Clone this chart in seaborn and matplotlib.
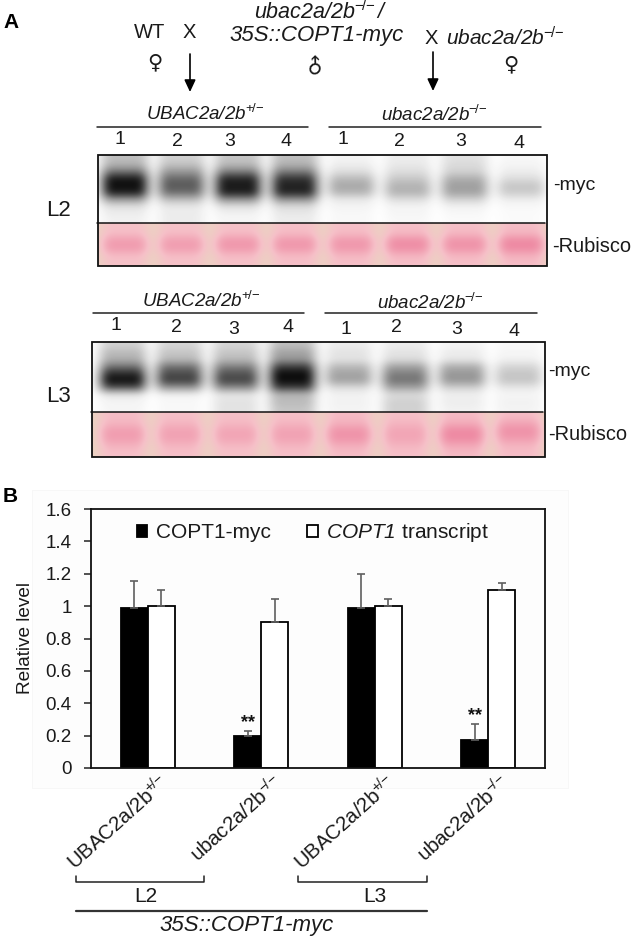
import matplotlib
matplotlib.use("Agg")
import matplotlib.pyplot as plt
from matplotlib.colors import LinearSegmentedColormap
from matplotlib.patches import Rectangle
from matplotlib.transforms import ScaledTranslation
import numpy as np
import pandas as pd
import seaborn as sns

# Bar chart values
groups = ["UBAC2a/2b+/- L2", "ubac2a/2b-/- L2", "UBAC2a/2b+/- L3", "ubac2a/2b-/- L3"]
protein = [0.99, 0.20, 0.99, 0.17]
transcript = [1.00, 0.90, 1.00, 1.10]
protein_err = [0.165, 0.03, 0.21, 0.10]
transcript_err = [0.10, 0.145, 0.045, 0.045]
y_ticks = [0, 0.2, 0.4, 0.6, 0.8, 1, 1.2, 1.4, 1.6]
y_tick_labels = ["0", "0.2", "0.4", "0.6", "0.8", "1", "1.2", "1.4", "1.6"]

# Blot darkness, one list per lane, top to bottom
myc_l2 = [
    [.28, .35, .62, .95, 1.0, .92, .45, .14, .08, .06],
    [.20, .28, .46, .64, .70, .62, .30, .10, .08, .08],
    [.25, .32, .58, .90, .95, .92, .48, .14, .06, .04],
    [.28, .35, .58, .85, .92, .90, .48, .16, .10, .08],
    [.05, .08, .15, .30, .38, .32, .10, .05, .03, .03],
    [.08, .10, .15, .24, .33, .33, .15, .05, .04, .03],
    [.13, .16, .20, .35, .42, .40, .20, .06, .03, .02],
    [.03, .05, .08, .15, .25, .22, .08, .03, .02, .02],
]
myc_l3 = [
    [.20, .30, .35, .60, .88, 1.0, .72, .10, .05, .04],
    [.18, .25, .30, .60, .75, .80, .45, .05, .03, .03],
    [.18, .25, .30, .55, .72, .78, .50, .10, .12, .12],
    [.28, .40, .45, .80, 1.0, 1.0, .80, .30, .30, .25],
    [.08, .12, .12, .30, .40, .40, .15, .05, .06, .05],
    [.08, .12, .15, .40, .55, .60, .40, .15, .20, .20],
    [.05, .08, .10, .35, .45, .45, .20, .06, .08, .06],
    [.03, .04, .06, .18, .25, .25, .10, .04, .06, .05],
]
rub_l2 = [
    [.42, .50, .80, .82, .50, .42],
    [.42, .50, .78, .80, .50, .42],
    [.42, .52, .85, .85, .52, .42],
    [.45, .52, .85, .85, .52, .45],
    [.45, .52, .85, .85, .55, .45],
    [.45, .55, .95, .95, .58, .45],
    [.45, .55, .90, .90, .55, .45],
    [.48, .58, 1.0, 1.0, .62, .48],
]
rub_l3 = [
    [.48, .55, .80, .80, .58, .45],
    [.45, .55, .75, .75, .55, .45],
    [.45, .52, .72, .72, .52, .42],
    [.45, .55, .75, .75, .55, .45],
    [.50, .60, .90, .90, .62, .48],
    [.45, .55, .72, .72, .55, .45],
    [.50, .65, 1.0, 1.0, .68, .50],
    [.48, .72, .95, .82, .55, .48],
]
lane_numbers = ["1", "2", "3", "4", "1", "2", "3", "4"]

W, H = 633, 939
sns.set_theme(style="ticks")
plt.rcParams["font.family"] = ["Liberation Sans", "DejaVu Sans"]
plt.rcParams["mathtext.fontset"] = "custom"
plt.rcParams["mathtext.rm"] = "Liberation Sans"
plt.rcParams["mathtext.it"] = "Liberation Sans:italic"
plt.rcParams["mathtext.bf"] = "Liberation Sans:bold"
# \mathit keeps digits upright, the cal slot gives a fully italic run
plt.rcParams["mathtext.cal"] = "Liberation Sans:italic"

TXT = "#1a1a1a"
UP = r"$\mathrm{UBAC2a/2b}^{+\!/\!-}$"
DOWN = r"$\mathrm{ubac2a/2b}^{-\!/\!-}$"
UP_I = r"$\mathcal{UBAC2a/2b}^{+\!/\!-}$"
DOWN_I = r"$\mathcal{ubac2a/2b}^{-\!/\!-}$"

fig = plt.figure(figsize=(W / 100, H / 100), dpi=100, facecolor="white")

# Overlay in pixel coordinates for panel A and the annotations
px = fig.add_axes([0, 0, 1, 1])
px.set_axis_off()
px.add_patch(Rectangle((32, 490), 536, 298, fc="#fdfdfd", ec="#f6f6f6", lw=0.6))


def spread(lanes, gap):
    # each lane period = one gap column + four lane columns
    cols = []
    for lane in lanes:
        cols.append([gap] * len(lane))
        cols.extend([lane] * 4)
    cols.append([gap] * len(lanes[0]))
    cols.append([gap] * len(lanes[0]))
    return np.array(cols).T


pink = LinearSegmentedColormap.from_list(
    "ponceau", [(0, "#e6dcc0"), (0.45, "#f6c0c8"), (1, "#ee8aa3")])
grey = LinearSegmentedColormap.from_list("blot", ["#ffffff", "#8c8c8c", "#0c0c0c"])


def blot(x0, x1, y0, ymid, y1, first, step, myc, rub):
    w = step / 5
    left = first - 3 * w
    right = left + 42 * w
    box = Rectangle((x0, y0), x1 - x0, y1 - y0, transform=px.transData)
    for data, cmap, top, bot, gap in [(myc, grey, y0, ymid, 0.0), (rub, pink, ymid, y1, 0.12)]:
        im = px.imshow(spread(data, gap), cmap=cmap, vmin=0, vmax=1, aspect="auto",
                       interpolation="bicubic", extent=(left, right, bot, top))
        im.set_clip_path(box)
    px.add_patch(Rectangle((x0, y0), x1 - x0, y1 - y0, fc="none", ec="#111111", lw=1.3))
    px.plot([x0 - 1, x1 - 2], [ymid, ymid], color="#111111", lw=1.1)


blot(98, 547, 155, 223, 266, 125, 56.6, myc_l2, rub_l2)
blot(92, 545, 342, 412, 457, 123, 56.5, myc_l3, rub_l3)

px.text(3, 22, "A", fontsize=15, fontweight="bold", color="black", va="center")
px.text(3, 497, "B", fontsize=15, fontweight="bold", color="black", va="center")

# Cross at the top
px.text(150, 33, "WT", fontsize=14.5, color=TXT, ha="center", va="center")
px.text(189, 33, "X", fontsize=14.5, color=TXT, ha="center", va="center")
px.text(321, 12, r"$\mathcal{ubac2a/2b}^{-\!/\!-}\mathcal{/}$", fontsize=15.5, color=TXT, ha="center", va="center")
px.text(317, 35, "35S::COPT1-myc", fontsize=16, style="italic", color=TXT, ha="center", va="center")
px.text(431, 38, "X", fontsize=14.5, color=TXT, ha="center", va="center")
px.text(446, 38, DOWN_I, fontsize=15, color=TXT, ha="left", va="center")
px.text(155, 62, "\u2640", fontsize=15, family=["DejaVu Sans"], color=TXT, ha="center", va="center")
px.text(316, 66, "\u2642", fontsize=15, family=["DejaVu Sans"], color=TXT, ha="center", va="center",
        rotation=45, rotation_mode="anchor")
px.text(511, 64, "\u2640", fontsize=15, family=["DejaVu Sans"], color=TXT, ha="center", va="center")
for ax_x, y_a, y_b in [(190, 54, 92), (433, 52, 91)]:
    px.annotate("", xy=(ax_x, y_b), xytext=(ax_x, y_a),
                arrowprops=dict(arrowstyle="-|>,head_width=0.28,head_length=0.6", color="black", lw=1.2,
                                shrinkA=0, shrinkB=0))

# Genotype headers and lane numbers above both blots
l2_x = [120, 177, 230, 286, 343, 399, 461, 519]
l2_y = [140, 141, 141, 141, 140, 142, 142, 143]
l3_x = [116, 176, 234, 288, 346, 396, 457, 514]
l3_y = [326, 328, 330, 328, 330, 328, 329, 331]
for n, x, y in zip(lane_numbers, l2_x, l2_y):
    px.text(x, y, n, fontsize=14, color=TXT, ha="center", va="center")
for n, x, y in zip(lane_numbers, l3_x, l3_y):
    px.text(x, y, n, fontsize=14, color=TXT, ha="center", va="center")
px.text(205, 114, UP_I, fontsize=13.5, color=TXT, ha="center", va="center")
px.text(434, 115, DOWN_I, fontsize=13.5, color=TXT, ha="center", va="center")
px.text(201, 301, UP_I, fontsize=13.5, color=TXT, ha="center", va="center")
px.text(430, 303, DOWN_I, fontsize=13.5, color=TXT, ha="center", va="center")
for x0, x1, y in [(97, 308, 127), (329, 541, 127), (93, 304, 313), (325, 537, 313)]:
    px.plot([x0, x1], [y, y], color="#222222", lw=1.1)

# Side labels
px.text(59, 210, "L2", fontsize=16, color=TXT, ha="center", va="center")
px.text(59, 397, "L3", fontsize=16, color=TXT, ha="center", va="center")
px.text(553, 186, "-myc", fontsize=14, color=TXT, va="center")
px.text(552, 246, "-Rubisco", fontsize=14.4, color=TXT, va="center")
px.text(548, 372, "-myc", fontsize=14, color=TXT, va="center")
px.text(548, 435, "-Rubisco", fontsize=14.4, color=TXT, va="center")

# Brackets below the bar chart
for x0, x1 in [(76, 204), (298, 427)]:
    px.plot([x0, x0, x1, x1], [876, 882, 882, 876], color="#222222", lw=1.1)
px.text(146, 896, "L2", fontsize=15, color=TXT, ha="center", va="center")
px.text(375, 896, "L3", fontsize=15, color=TXT, ha="center", va="center")
px.plot([76, 427], [911, 911], color="#333333", lw=1.6)
px.text(247, 925, "35S::COPT1-myc", fontsize=16, style="italic", color=TXT, ha="center", va="center")
px.set_xlim(0, W)
px.set_ylim(H, 0)

# Panel B
ax = fig.add_axes([91 / W, 1 - 768 / H, 454 / W, 259 / H])
ax.patch.set_alpha(0)
long_df = pd.DataFrame({
    "group": groups * 2,
    "kind": ["COPT1-myc"] * 4 + ["transcript"] * 4,
    "level": protein + transcript,
})
sns.barplot(data=long_df, x="group", y="level", hue="kind", order=groups,
            palette={"COPT1-myc": "black", "transcript": "white"},
            width=0.48, gap=0, errorbar=None, edgecolor="black", linewidth=1.3,
            legend=False, saturation=1, ax=ax)

for container, errs in zip(ax.containers, [protein_err, transcript_err]):
    centres = [b.get_x() + b.get_width() / 2 for b in container]
    tops = [b.get_height() for b in container]
    ax.errorbar(centres, tops, yerr=[[0] * len(errs), errs], fmt="none", ecolor="#5f5f5f",
                elinewidth=1.2, capsize=3, capthick=1.2, zorder=1)

for b, err, s in zip(ax.containers[0], protein_err, [None, "**", None, "**"]):
    if s:
        ax.annotate(s, (b.get_x() + b.get_width() / 2, b.get_height() + err), xytext=(0, 0),
                    textcoords="offset points", ha="center", va="bottom",
                    fontsize=13, fontweight="bold", color="#111111")

ax.set_xlim(-0.5, 3.5)
ax.set_ylim(0, 1.6)
ax.set_yticks(y_ticks)
ax.set_yticklabels(y_tick_labels, fontsize=13.5, color=TXT)
ax.set_ylabel("Relative level", fontsize=13.7, color=TXT, labelpad=8)
ax.set_xlabel("")
ax.set_xticks(range(4))
ax.set_xticklabels([UP, DOWN, UP, DOWN], rotation=42, ha="right", va="center",
                   rotation_mode="anchor", fontsize=14.7, color=TXT)
ax.tick_params(axis="x", length=0, pad=0)
ax.tick_params(axis="y", length=5, width=1.1, color="#222222", pad=9)
# tick_params resets the label transforms, so the shift has to come after it
shift = ScaledTranslation(18 / 100, -12 / 100, fig.dpi_scale_trans)
for lab in ax.get_xticklabels():
    lab.set_transform(lab.get_transform() + shift)
for s in ax.spines.values():
    s.set_linewidth(1.3)
    s.set_color("#111111")
    s.set_visible(True)

handles = [ax.containers[0][0], ax.containers[1][0]]
ax.legend(handles, ["COPT1-myc", r"$\mathcal{COPT1}$ transcript"], ncol=2, frameon=False,
          fontsize=15, loc="upper left", bbox_to_anchor=(0.082, 0.985), borderaxespad=0,
          handlelength=0.52, handleheight=0.52, handletextpad=0.4, columnspacing=1.74, labelcolor=TXT)

fig.savefig("out.png", dpi=100)
